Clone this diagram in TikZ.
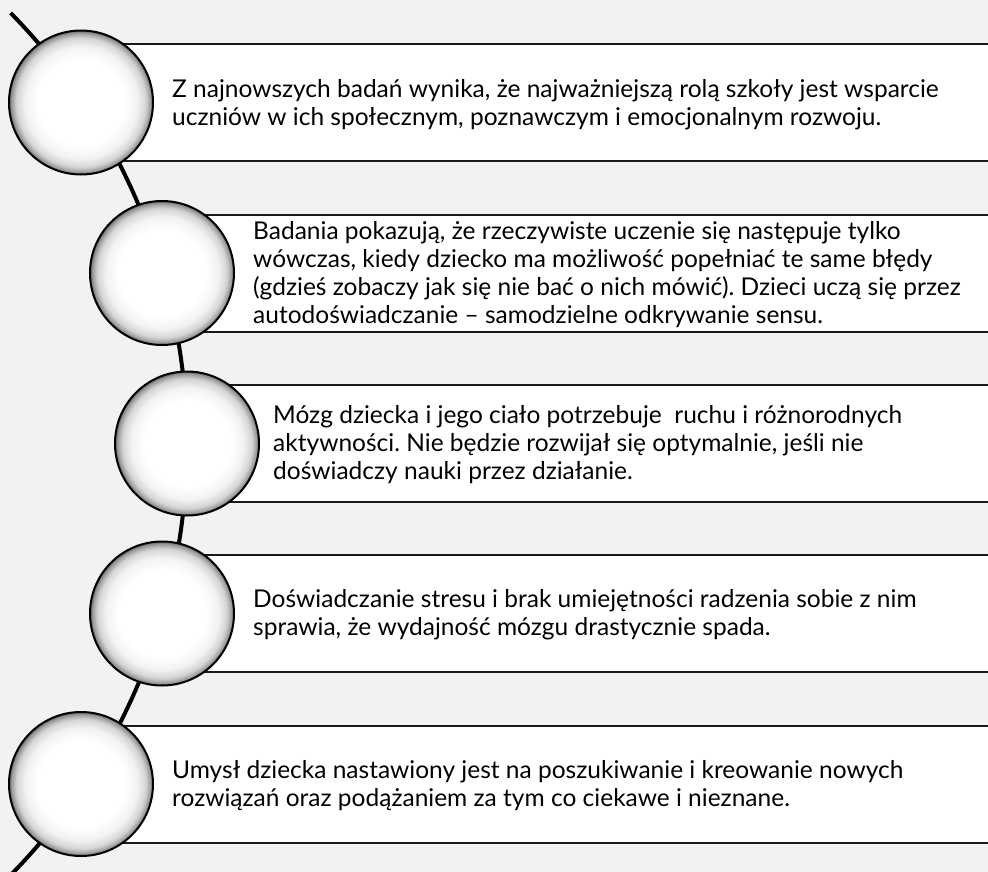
\documentclass[tikz,border=0pt]{standalone}
\usepackage{fontspec}
\setmainfont{Lato}
\frenchspacing
\definecolor{bg}{RGB}{242,242,240}
\pgfdeclareradialshading{ballshade}{\pgfpoint{0bp}{0bp}}{color(0bp)=(white); color(15bp)=(white); color(19.5bp)=(black!5); color(22.5bp)=(black!17); color(24.2bp)=(black!40); color(25bp)=(black!60); color(50bp)=(black!60)}
\tikzset{
  ball/.style={circle, minimum size=144pt, inner sep=0pt, draw=black, line width=2pt, shade, shading=ballshade},
  panel/.style={draw=black!90, line width=2pt, fill=white, anchor=west, minimum width=930pt, minimum height=117pt, inner sep=0pt},
  txt/.style={anchor=base west, inner sep=0pt, font=\fontsize{24.5}{28}\selectfont},
  spine/.style={line width=4pt, draw=black},
}
\newcommand{\lines}[1]{\begin{tabular}[t]{@{}l@{}}#1\end{tabular}}
\begin{document}
\begin{tikzpicture}[x=1pt, y=-1pt]
  \useasboundingbox (0,0) rectangle (988,872);
  \clip (0,0) rectangle (988,872);
  \fill[bg] (0,0) rectangle (988,872);
  % spine arc
  \coordinate (arcc) at (-428,444);
  \draw[spine] (arcc) ++(-44.5:615) arc[start angle=-44.5, end angle=47, radius=615];
  % panels
  \node[panel] (p1) at (81,102.5) {};
  \node[panel] (p2) at (162,273) {};
  \node[panel] (p3) at (187,443.5) {};
  \node[panel] (p4) at (162,613.5) {};
  \node[panel] (p5) at (81,784) {};
  % circles
  \node[ball] (c1) at (81,102.5) {};
  \node[ball] (c2) at (162,273) {};
  \node[ball] (c3) at (187,443.5) {};
  \node[ball] (c4) at (162,613.5) {};
  \node[ball] (c5) at (81,784) {};
  % texts
  \node[txt] (t1) at (172,98) {\lines{Z najnowszych badań wynika, że najważniejszą rolą szkoły jest wsparcie\\uczniów w ich społecznym, poznawczym i emocjonalnym rozwoju.}};
  \node[txt] (t2) at (253,239) {\lines{Badania pokazują, że rzeczywiste uczenie się następuje tylko\\wówczas, kiedy dziecko ma możliwość popełniać te same błędy\\(gdzieś zobaczy jak się nie bać o nich mówić). Dzieci uczą się przez\\autodoświadczanie – samodzielne odkrywanie sensu.}};
  \node[txt] (t3) at (273,423) {\lines{Mózg dziecka i jego ciało potrzebuje\ \ ruchu i różnorodnych\\aktywności. Nie będzie rozwijał się optymalnie, jeśli nie\\doświadczy nauki przez działanie.}};
  \node[txt] (t4) at (253,607) {\lines{Doświadczanie stresu i brak umiejętności radzenia sobie z nim\\sprawia, że wydajność mózgu drastycznie spada.}};
  \node[txt] (t5) at (172,778) {\lines{Umysł dziecka nastawiony jest na poszukiwanie i kreowanie nowych\\rozwiązań oraz podążaniem za tym co ciekawe i nieznane.}};
\end{tikzpicture}
\end{document}
